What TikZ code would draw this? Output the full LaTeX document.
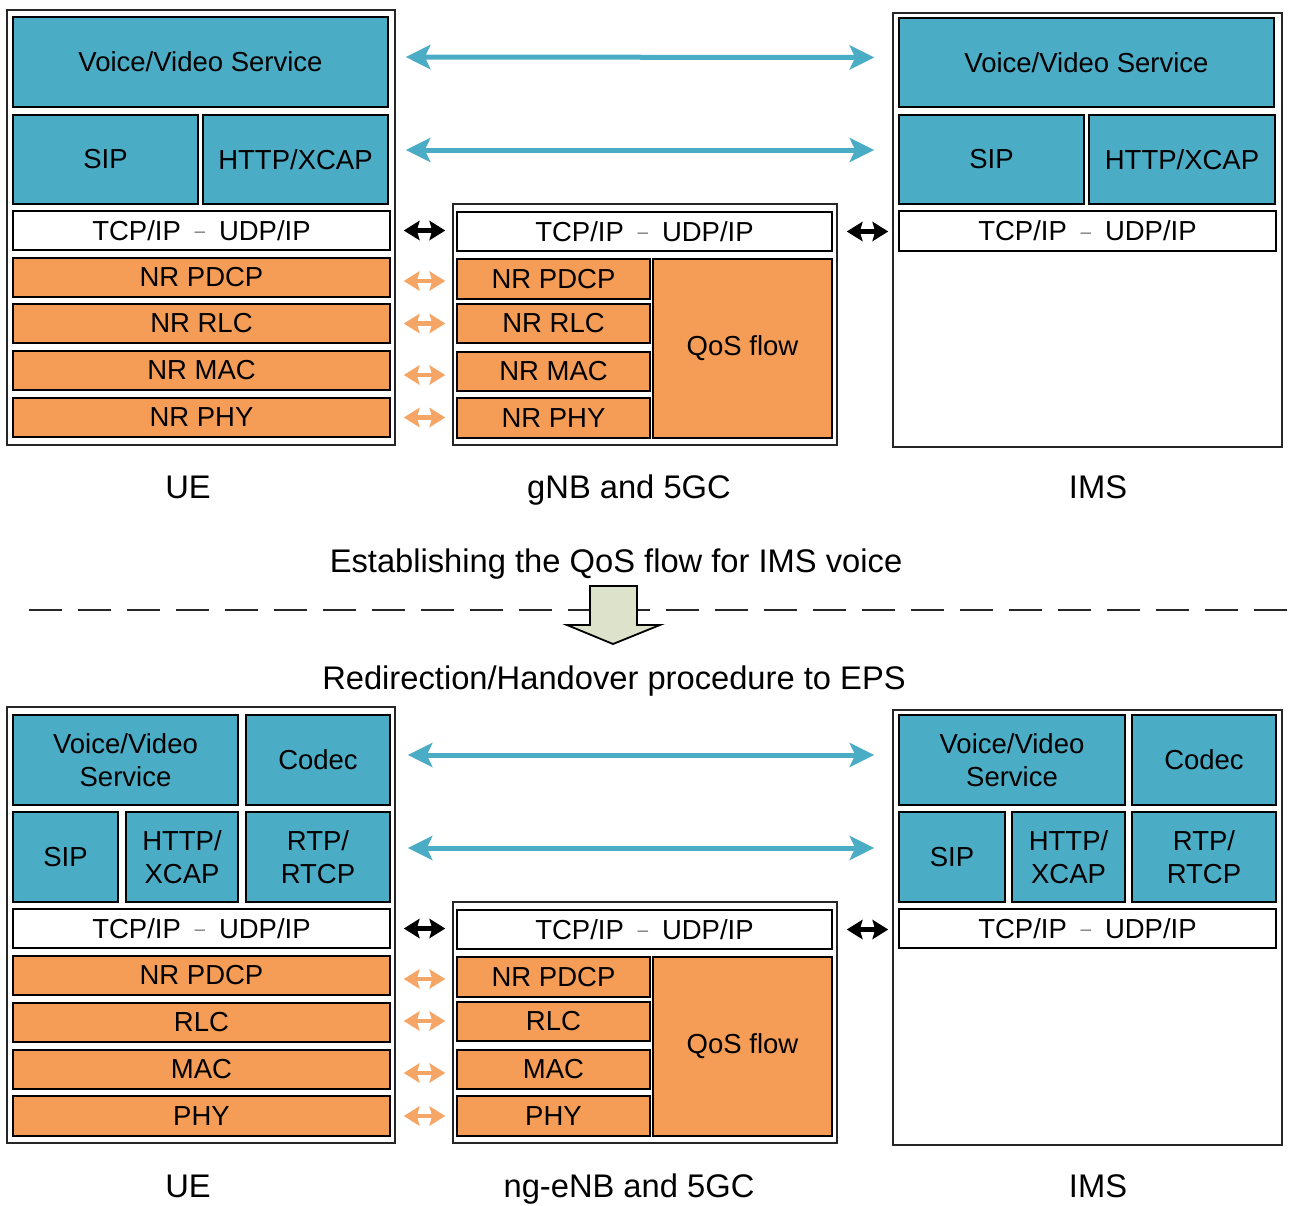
\documentclass[tikz,border=0pt]{standalone}
\usepackage{fontspec}
\setmainfont{Liberation Sans}
\usetikzlibrary{arrows.meta}
\definecolor{tealA}{HTML}{4BACC6}
\definecolor{orngA}{HTML}{F59D56}
\definecolor{orngArr}{HTML}{F5A566}
\definecolor{paleA}{HTML}{DDE2CB}
\newcommand\tcpip{TCP/IP\hspace{0.5em}\raisebox{2.4pt}{\color{black!55}\fontsize{19}{20}\selectfont–}\hspace{0.5em}UDP/IP}
\newcommand\blk[7]{\node[#6, minimum width={(#4-#2)*1pt}, minimum height={(#5-#3)*1pt}] (#1) at ({(#2+#4)/2},{(#3+#5)/2}) {#7};}
\tikzset{
  lay/.style={draw=black, line width=1.6pt, inner sep=0pt, align=center, font=\fontsize{27.5}{33}\selectfont},
  tealbox/.style={lay, fill=tealA},
  orbox/.style={lay, fill=orngA},
  whbox/.style={lay, fill=white},
  outerbox/.style={draw=black!85, line width=1.6pt, inner sep=0pt, fill=white},
  lbl/.style={inner sep=0pt, anchor=base, font=\fontsize{32.7}{38}\selectfont},
  bigarr/.style={draw=tealA, line width=5pt, {Stealth[length=25pt,width=25pt,inset=6pt,line width=0pt]}-{Stealth[length=25pt,width=25pt,inset=6pt,line width=0pt]}},
  blkarr/.style={draw=black, line width=4.5pt, {Stealth[length=16pt,width=20pt,inset=3pt,line width=0pt]}-{Stealth[length=16pt,width=20pt,inset=3pt,line width=0pt]}},
  orarr/.style={blkarr, draw=orngArr}
}
\begin{document}
\begin{tikzpicture}[x=1pt,y=-1pt]
\useasboundingbox (0,0) rectangle (1293,1205);
% ---------------- top half ----------------
\blk{ue}{7}{10}{395}{445}{outerbox}{}
\blk{uevs}{13}{17}{388}{107}{tealbox}{Voice/Video Service}
\blk{uesip}{13}{115}{198}{204}{tealbox}{SIP}
\blk{uehttp}{203}{115}{388}{204}{tealbox}{HTTP/XCAP}
\blk{uetcp}{13}{211}{390}{250}{whbox}{\tcpip}
\blk{uepdcp}{13}{258}{390}{297}{orbox}{NR PDCP}
\blk{uerlc}{13}{304}{390}{343}{orbox}{NR RLC}
\blk{uemac}{13}{351}{390}{390}{orbox}{NR MAC}
\blk{uephy}{13}{398}{390}{437}{orbox}{NR PHY}

\blk{gnb}{453}{204}{837}{445}{outerbox}{}
\blk{gtcp}{457}{212}{832}{251}{whbox}{\tcpip}
\blk{gpdcp}{457}{259}{650}{299}{orbox}{NR PDCP}
\blk{grlc}{457}{304}{650}{343}{orbox}{NR RLC}
\blk{gmac}{457}{352}{650}{391}{orbox}{NR MAC}
\blk{gphy}{457}{398}{650}{438}{orbox}{NR PHY}
\blk{gqos}{653}{259}{832}{438}{orbox}{QoS flow}

\blk{ims}{893}{13}{1282}{447}{outerbox}{}
\blk{imsvs}{899}{18}{1274}{107}{tealbox}{Voice/Video Service}
\blk{imssip}{899}{115}{1084}{204}{tealbox}{SIP}
\blk{imshttp}{1089}{115}{1275}{204}{tealbox}{HTTP/XCAP}
\blk{imstcp}{899}{211}{1276}{251}{whbox}{\tcpip}

\draw[bigarr, shorten <=17pt, shorten >=24pt] ([yshift=5pt]uevs.east) -- ([yshift=5pt]imsvs.west);
\draw[bigarr, shorten <=17pt, shorten >=24pt] ([yshift=9.5pt]uehttp.east) -- ([yshift=9.5pt]imssip.west);
\draw[blkarr, shorten <=13pt, shorten >=11pt] (uetcp.east) -- (uetcp.east -| gtcp.west);
\draw[blkarr, shorten <=14pt, shorten >=10pt] (gtcp.east) -- (gtcp.east -| imstcp.west);
\draw[orarr, shorten <=13pt, shorten >=11pt] ([yshift=-3.5pt]uepdcp.east) -- ([yshift=-3.5pt]uepdcp.east -| gpdcp.west);
\draw[orarr, shorten <=13pt, shorten >=11pt] (uerlc.east) -- (uerlc.east -| grlc.west);
\draw[orarr, shorten <=13pt, shorten >=11pt] ([yshift=-4.5pt]uemac.east) -- ([yshift=-4.5pt]uemac.east -| gmac.west);
\draw[orarr, shorten <=13pt, shorten >=11pt] (uephy.east) -- (uephy.east -| gphy.west);

\node[lbl] (lue) at (188,498.5) {UE};
\node[lbl] (lgnb) at (629,498.5) {gNB and 5GC};
\node[lbl] (lims) at (1098,498.5) {IMS};

% ---------------- middle ----------------
\node[lbl] (lest) at (616,572.5) {Establishing the QoS flow for IMS voice};
\draw[dash pattern=on 33pt off 16pt, line width=2.2pt, black!85] (29,610) -- (1293,610);
\draw[fill=paleA, draw=black, line width=1.8pt, line join=miter]
  (590,586) -- (637,586) -- (637,625) -- (660,625) -- (613,644) -- (567,625) -- (590,625) -- cycle;
\node[lbl] (lred) at (614,689.5) {Redirection/Handover procedure to EPS};

% ---------------- bottom half ----------------
\blk{ueb}{7}{707}{395}{1143}{outerbox}{}
\blk{uebvs}{13}{715}{238}{805}{tealbox}{Voice/Video\\Service}
\blk{uebcodec}{246}{715}{390}{805}{tealbox}{Codec}
\blk{uebsip}{13}{812}{118}{902}{tealbox}{SIP}
\blk{uebhttp}{126}{812}{238}{902}{tealbox}{HTTP/\\XCAP}
\blk{uebrtp}{246}{812}{390}{902}{tealbox}{RTP/\\RTCP}
\blk{uebtcp}{13}{909}{390}{948}{whbox}{\tcpip}
\blk{uebpdcp}{13}{956}{390}{995}{orbox}{NR PDCP}
\blk{uebrlc}{13}{1003}{390}{1042}{orbox}{RLC}
\blk{uebmac}{13}{1050}{390}{1089}{orbox}{MAC}
\blk{uebphy}{13}{1096}{390}{1136}{orbox}{PHY}

\blk{gb}{453}{902}{837}{1143}{outerbox}{}
\blk{gbtcp}{457}{910}{832}{949}{whbox}{\tcpip}
\blk{gbpdcp}{457}{957}{650}{997}{orbox}{NR PDCP}
\blk{gbrlc}{457}{1002}{650}{1041}{orbox}{RLC}
\blk{gbmac}{457}{1050}{650}{1089}{orbox}{MAC}
\blk{gbphy}{457}{1096}{650}{1136}{orbox}{PHY}
\blk{gbqos}{653}{957}{832}{1136}{orbox}{QoS flow}

\blk{imsb}{893}{710}{1282}{1145}{outerbox}{}
\blk{imsbvs}{899}{715}{1125}{805}{tealbox}{Voice/Video\\Service}
\blk{imsbcodec}{1132}{715}{1276}{805}{tealbox}{Codec}
\blk{imsbsip}{899}{812}{1005}{902}{tealbox}{SIP}
\blk{imsbhttp}{1012}{812}{1125}{902}{tealbox}{HTTP/\\XCAP}
\blk{imsbrtp}{1132}{812}{1276}{902}{tealbox}{RTP/\\RTCP}
\blk{imsbtcp}{899}{909}{1276}{948}{whbox}{\tcpip}

\draw[bigarr, shorten <=17pt, shorten >=24pt] ([yshift=5pt]uebcodec.east) -- ([yshift=5pt]uebcodec.east -| imsbvs.west);
\draw[bigarr, shorten <=17pt, shorten >=24pt] ([yshift=9pt]uebrtp.east) -- ([yshift=9pt]uebrtp.east -| imsbsip.west);
\draw[blkarr, shorten <=13pt, shorten >=11pt] (uebtcp.east) -- (uebtcp.east -| gbtcp.west);
\draw[blkarr, shorten <=14pt, shorten >=10pt] (gbtcp.east) -- (gbtcp.east -| imsbtcp.west);
\draw[orarr, shorten <=13pt, shorten >=11pt] ([yshift=-3.5pt]uebpdcp.east) -- ([yshift=-3.5pt]uebpdcp.east -| gbpdcp.west);
\draw[orarr, shorten <=13pt, shorten >=11pt] ([yshift=1.5pt]uebrlc.east) -- ([yshift=1.5pt]uebrlc.east -| gbrlc.west);
\draw[orarr, shorten <=13pt, shorten >=11pt] ([yshift=-3.5pt]uebmac.east) -- ([yshift=-3.5pt]uebmac.east -| gbmac.west);
\draw[orarr, shorten <=13pt, shorten >=11pt] (uebphy.east) -- (uebphy.east -| gbphy.west);

\node[lbl] (lueb) at (188,1197.5) {UE};
\node[lbl] (lgb) at (629,1197.5) {ng-eNB and 5GC};
\node[lbl] (limsb) at (1098,1197.5) {IMS};
\end{tikzpicture}
\end{document}
